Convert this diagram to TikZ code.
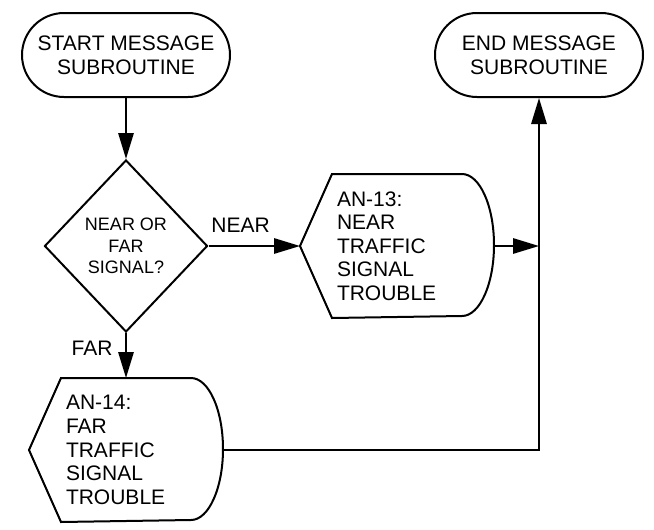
\documentclass[tikz,border=0pt]{standalone}
\usepackage{fontspec}
\setmainfont{Liberation Sans}
\usetikzlibrary{shapes.geometric}
\usetikzlibrary{arrows.meta}
\tikzset{
    terminal/.style={ % rounded start/end boxes
    draw, rounded corners=31.5pt,
    minimum width=156pt, minimum height=63pt,
    inner sep=0pt, align=center},
    decision/.style={ % the question diamond
    draw, diamond,
    minimum width=122.25pt, minimum height=129pt,
    inner sep=0pt, align=center,
    font=\fontsize{13.5}{16.3}\selectfont},
    display/.style={ % message boxes, outline drawn by \dispoutline
    text width=90pt, inner xsep=27pt, inner ysep=0pt,
    minimum height=106.5pt, align=left},
    flow/.style={ % connectors with solid heads
    draw, -{Triangle[length=19.5pt, width=11.5pt]}}
}
% Outline of a display box round a named node
\newcommand{\dispoutline}[1]{%
    \draw ([xshift=24pt]#1.north west) -- ([xshift=-24pt]#1.north east)
        arc[start angle=90, end angle=-90, x radius=24pt, y radius=53.25pt]
        -- ([xshift=24pt]#1.south west) -- (#1.west) -- cycle;}
\begin{document}
\begin{tikzpicture}[x=0.75pt, y=-0.75pt, line width=1.5pt,
    font=\fontsize{15.75}{17.7}\selectfont]
        \useasboundingbox (0,0) rectangle (654,529);

        % Start and end of the subroutine
        \node[terminal] (start) at (126,55) {START MESSAGE\\SUBROUTINE};
        \node[terminal] (end) at (539,55) {END MESSAGE\\SUBROUTINE};

        % Decision
        \node[decision] (ask) at (126,246) {NEAR OR\\FAR\\SIGNAL?};

        % Messages
        \node[display] (near) at (397,246) {AN-13:\\NEAR\\TRAFFIC\\SIGNAL\\TROUBLE};
        \dispoutline{near}
        \node[display] (far) at (126,450) {AN-14:\\FAR\\TRAFFIC\\SIGNAL\\TROUBLE};
        \dispoutline{far}

        % Flow
        \draw[flow] (start) -- (ask);
        \draw[flow] (ask.east) -- node[above, pos=0.35, yshift=6pt] {NEAR} (near.west);
        \draw[flow] (ask.south) -- node[left, pos=0.35, xshift=-6pt] {FAR} (far.north);
        \draw[flow] (near.east) -- (near.east -| end.south);
        \draw[flow] (far.east) -| (end.south);

    \end{tikzpicture}
\end{document}
